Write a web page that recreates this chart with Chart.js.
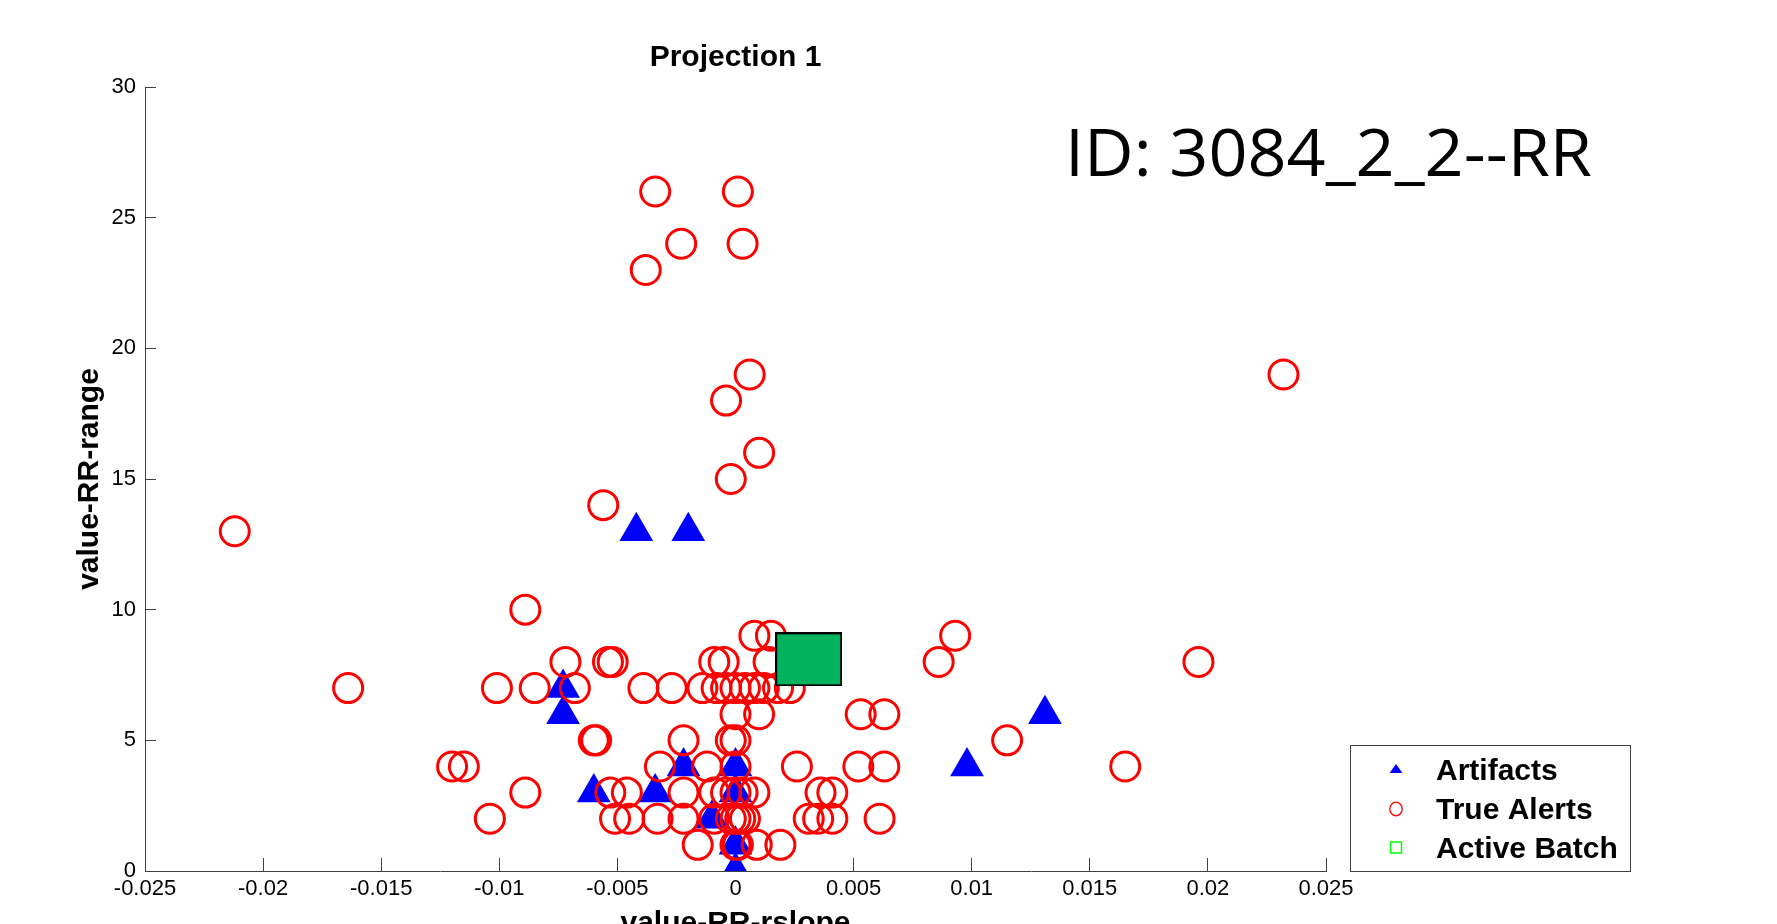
<!DOCTYPE html>
<html>
<head>
<meta charset="utf-8">
<title>Projection 1</title>
<script src="https://cdn.jsdelivr.net/npm/chart.js@4.4.1/dist/chart.umd.min.js"></script>
<style>
  html, body { margin: 0; padding: 0; background: #fff; }
  #wrap { width: 1777px; height: 924px; position: relative; }
</style>
</head>
<body>
<div id="wrap"><canvas id="myChart"></canvas></div>
<script>
var seriesNames = ['Artifacts', 'True Alerts', 'Active Batch'];
var idText = 'ID: 3084_2_2--RR';

// Artifacts (blue triangles)
var artifactX = [-0.0042, -0.0020, -0.0073, -0.0073, 0.0131, 0.0098, -0.0022, 0.0000, -0.0060, -0.0034, 0.0000, -0.0010, 0.0000, 0.0000];
var artifactY = [13, 13, 7, 6, 6, 4, 4, 4, 3, 3, 3, 2, 1, 0];

// True alerts (red circles), row by row
var alertX = [
  -0.0034, 0.0001,
  -0.0023, 0.0003,
  -0.0038,
  0.0006, 0.0232,
  -0.0004,
  0.0010,
  -0.0002,
  -0.0056,
  -0.0212,
  -0.0089,
  0.0008, 0.0015, 0.0093,
  -0.0072, -0.0054, -0.0052, -0.0009, -0.0005, 0.0014, 0.0086, 0.0196,
  -0.0164, -0.0101, -0.0085, -0.0068, -0.0039, -0.0027, -0.0014, -0.0008, -0.0004, 0.0000, 0.0004, 0.0008, 0.0012, 0.0018, 0.0023,
  0.0000, 0.0010, 0.0053, 0.0063,
  -0.0060, -0.0059, -0.0022, -0.0002, 0.0000, 0.0115,
  -0.0120, -0.0115, -0.0032, -0.0012, 0.0000, 0.0026, 0.0052, 0.0063, 0.0165,
  -0.0089, -0.0053, -0.0046, -0.0022, -0.0009, -0.0004, 0.0000, 0.0003, 0.0008, 0.0036, 0.0041,
  -0.0104, -0.0051, -0.0045, -0.0033, -0.0022, -0.0009, -0.0002, 0.0000, 0.0002, 0.0004, 0.0031, 0.0035, 0.0041, 0.0061,
  -0.0016, 0.0000, 0.0001, 0.0009, 0.0019
];
var alertY = [
  26, 26,
  24, 24,
  23,
  19, 19,
  18,
  16,
  15,
  14,
  13,
  10,
  9, 9, 9,
  8, 8, 8, 8, 8, 8, 8, 8,
  7, 7, 7, 7, 7, 7, 7, 7, 7, 7, 7, 7, 7, 7, 7,
  6, 6, 6, 6,
  5, 5, 5, 5, 5, 5,
  4, 4, 4, 4, 4, 4, 4, 4, 4,
  3, 3, 3, 3, 3, 3, 3, 3, 3, 3, 3,
  2, 2, 2, 2, 2, 2, 2, 2, 2, 2, 2, 2, 2, 2,
  1, 1, 1, 1, 1
];

// Active batch (green box)
var batchX = [0.0031];
var batchY = [8.1];

var xTickValues = [-0.025, -0.02, -0.015, -0.01, -0.005, 0, 0.005, 0.01, 0.015, 0.02, 0.025];
var xTickLabels = ['-0.025', '-0.02', '-0.015', '-0.01', '-0.005', '0', '0.005', '0.01', '0.015', '0.02', '0.025'];
var yTickValues = [0, 5, 10, 15, 20, 25, 30];
var yTickLabels = ['0', '5', '10', '15', '20', '25', '30'];

function toPoints(xs, ys) {
  return xs.map(function (x, i) { return { x: x, y: ys[i] }; });
}

Chart.defaults.font.family = "'Liberation Sans', Arial, sans-serif";
Chart.defaults.color = '#000';

// marker for the active batch: filled green box with black edge
var batchMarker = document.createElement('canvas');
batchMarker.width = 67;
batchMarker.height = 54;
var bctx = batchMarker.getContext('2d');
bctx.fillStyle = '#00b35c';
bctx.fillRect(0, 0, 67, 54);
bctx.strokeStyle = '#000';
bctx.lineWidth = 2;
bctx.strokeRect(1, 1, 65, 52);

// ID label and the boxed legend
var extras = {
  id: 'extras',
  afterDraw: function (chart) {
    var ctx = chart.ctx;

    ctx.save();
    ctx.font = '66px "Open Sans"';
    ctx.fillStyle = '#000';
    ctx.textAlign = 'left';
    ctx.textBaseline = 'alphabetic';
    var w = ctx.measureText(idText).width;
    ctx.translate(1065, 176);
    ctx.scale(527 / w, 1);
    ctx.fillText(idText, 0, 0);
    ctx.restore();

    ctx.save();
    ctx.fillStyle = '#fff';
    ctx.fillRect(1350, 745, 281, 127);
    ctx.strokeStyle = '#404040';
    ctx.lineWidth = 1;
    ctx.strokeRect(1350.5, 745.5, 280, 126);

    var mx = 1396;
    // triangle
    ctx.fillStyle = '#0000ff';
    ctx.beginPath();
    ctx.moveTo(mx - 6.5, 773);
    ctx.lineTo(mx + 6.5, 773);
    ctx.lineTo(mx, 764);
    ctx.closePath();
    ctx.fill();
    // circle
    ctx.strokeStyle = '#ff0000';
    ctx.lineWidth = 1.3;
    ctx.beginPath();
    ctx.ellipse(mx, 809, 6.2, 6.8, 0, 0, Math.PI * 2);
    ctx.stroke();
    // square
    ctx.strokeStyle = '#00ff00';
    ctx.lineWidth = 1.5;
    ctx.strokeRect(mx - 5.5, 842, 11, 11);

    ctx.fillStyle = '#000';
    ctx.font = "bold 30px 'Liberation Sans', Arial, sans-serif";
    ctx.textAlign = 'left';
    ctx.textBaseline = 'alphabetic';
    ctx.fillText(seriesNames[0], 1436, 780);
    ctx.fillText(seriesNames[1], 1436, 819);
    ctx.fillText(seriesNames[2], 1436, 858);
    ctx.restore();
  }
};

var ctx = document.getElementById('myChart').getContext('2d');
var myChart = new Chart(ctx, {
  type: 'scatter',
  data: {
    datasets: [{
      label: seriesNames[0],
      data: toPoints(artifactX, artifactY),
      pointStyle: 'triangle',
      pointRadius: 19.5,
      pointHoverRadius: 19.5,
      backgroundColor: '#0000ff',
      borderColor: '#0000ff',
      borderWidth: 0,
      order: 3
    }, {
      label: seriesNames[1],
      data: toPoints(alertX, alertY),
      pointStyle: 'circle',
      pointRadius: 14.5,
      pointHoverRadius: 14.5,
      backgroundColor: 'rgba(0,0,0,0)',
      borderColor: '#ff0000',
      borderWidth: 3,
      order: 2
    }, {
      label: seriesNames[2],
      data: toPoints(batchX, batchY),
      pointStyle: batchMarker,
      pointRadius: 30,
      order: 1
    }]
  },
  options: {
    responsive: true,
    maintainAspectRatio: false,
    animation: false,
    events: [],
    layout: { padding: { left: 0, right: 451, top: 0, bottom: 0 } },
    plugins: {
      legend: { display: false },
      tooltip: { enabled: false },
      title: {
        display: true,
        text: 'Projection 1',
        fullSize: false,
        color: '#000',
        font: { size: 30, weight: 'bold' },
        padding: { top: 40, bottom: 11 }
      }
    },
    scales: {
      x: {
        type: 'linear',
        min: -0.025,
        max: 0.025,
        afterBuildTicks: function (scale) {
          scale.ticks = xTickValues.map(function (v) { return { value: v }; });
        },
        afterFit: function (scale) { scale.height = 53; },
        grid: { drawOnChartArea: false, tickLength: -13, color: '#404040' },
        border: { color: '#404040', width: 1 },
        ticks: {
          padding: 18,
          color: '#000',
          maxRotation: 0,
          autoSkip: false,
          font: { size: 22 },
          callback: function (v, i) { return xTickLabels[i]; }
        },
        title: {
          display: true,
          text: 'value-RR-rslope',
          color: '#000',
          font: { size: 30, weight: 'bold' },
          padding: { top: 0, bottom: -18 }
        }
      },
      y: {
        type: 'linear',
        min: 0,
        max: 30,
        afterBuildTicks: function (scale) {
          scale.ticks = yTickValues.map(function (v) { return { value: v }; });
        },
        afterFit: function (scale) { scale.width = 145; },
        grid: { drawOnChartArea: false, tickLength: -11, color: '#404040' },
        border: { color: '#404040', width: 1 },
        ticks: {
          padding: 20,
          color: '#000',
          font: { size: 22 },
          callback: function (v, i) { return yTickLabels[i]; }
        },
        title: {
          display: true,
          text: 'value-RR-range',
          color: '#000',
          font: { size: 30, weight: 'bold' },
          padding: { top: 72, bottom: 0 }
        }
      }
    }
  },
  plugins: [extras]
});
</script>
</body>
</html>
